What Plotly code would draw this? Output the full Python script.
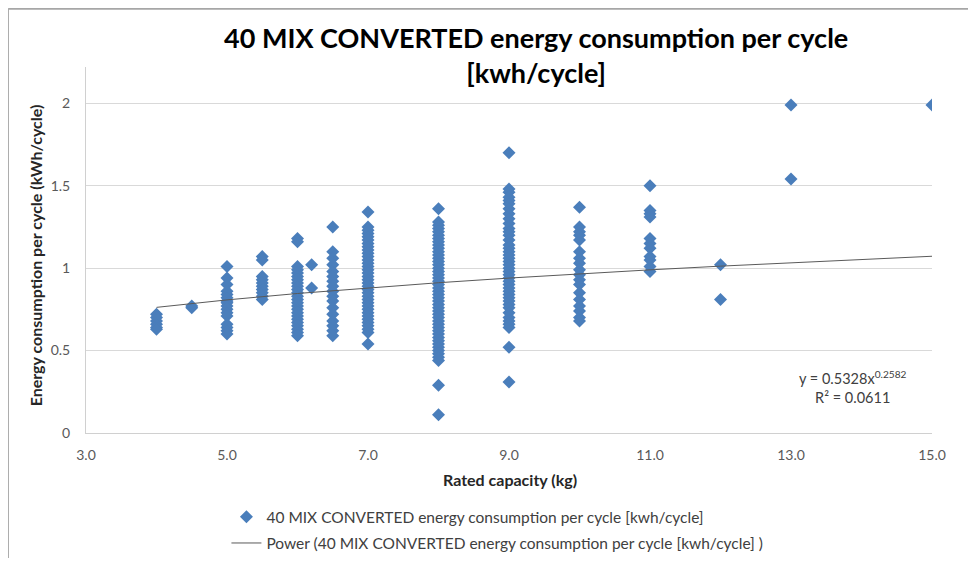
import plotly.graph_objects as go

# Energy consumption per cycle (kWh/cycle) grouped by rated capacity (kg)
capacities = [4.0, 4.5, 5.0, 5.5, 6.0, 6.2, 6.5, 7.0, 8.0, 9.0, 10.0, 11.0, 12.0, 13.0, 15.0]

cons_4 = [0.72, 0.70, 0.68, 0.66, 0.64, 0.63]
cons_4_5 = [0.76, 0.77]
cons_5 = [1.01, 0.94, 0.90, 0.86, 0.84, 0.82, 0.80, 0.79, 0.77, 0.75, 0.73, 0.71, 0.66, 0.64, 0.62, 0.60]
cons_5_5 = [1.07, 1.05, 0.95, 0.93, 0.91, 0.89, 0.87, 0.85, 0.83, 0.81]
cons_6 = [1.18, 1.16, 1.01, 0.99, 0.97, 0.95, 0.93, 0.91, 0.89, 0.87, 0.85, 0.83,
          0.81, 0.79, 0.77, 0.75, 0.73, 0.71, 0.69, 0.67, 0.65, 0.63, 0.61, 0.59]
cons_6_2 = [1.02, 0.88]
cons_6_5 = [1.25, 1.10, 1.06, 1.02, 0.98, 0.95, 0.92, 0.89, 0.86, 0.83, 0.80, 0.76,
            0.72, 0.68, 0.65, 0.62, 0.59]
cons_7 = [1.34, 1.25, 1.23, 1.21, 1.19, 1.17, 1.15, 1.13, 1.11, 1.09, 1.07, 1.05,
          1.03, 1.01, 0.99, 0.97, 0.95, 0.93, 0.91, 0.89, 0.87, 0.85, 0.83, 0.81,
          0.79, 0.77, 0.75, 0.73, 0.71, 0.69, 0.67, 0.65, 0.63, 0.61, 0.54]
cons_8 = [1.36, 1.28, 1.26, 1.24, 1.22, 1.20, 1.18, 1.16, 1.14, 1.12, 1.10, 1.08,
          1.06, 1.04, 1.02, 1.00, 0.98, 0.96, 0.94, 0.92, 0.90, 0.88, 0.86, 0.84,
          0.82, 0.80, 0.78, 0.76, 0.74, 0.72, 0.70, 0.68, 0.66, 0.64, 0.62, 0.60,
          0.58, 0.56, 0.54, 0.52, 0.50, 0.48, 0.46, 0.44, 0.29, 0.11]
cons_9 = [1.70, 1.48, 1.46, 1.43, 1.41, 1.39, 1.36, 1.33, 1.30, 1.27, 1.24, 1.22,
          1.20, 1.17, 1.14, 1.12, 1.10, 1.08, 1.06, 1.04, 1.02, 1.00, 0.98, 0.96,
          0.94, 0.92, 0.90, 0.88, 0.86, 0.84, 0.82, 0.80, 0.78, 0.76, 0.73, 0.70,
          0.68, 0.66, 0.64, 0.52, 0.31]
cons_10 = [1.37, 1.25, 1.22, 1.20, 1.17, 1.10, 1.06, 1.03, 0.99, 0.96, 0.93, 0.90,
           0.85, 0.81, 0.77, 0.74, 0.70, 0.68]
cons_11 = [1.50, 1.35, 1.33, 1.31, 1.18, 1.15, 1.12, 1.07, 1.05, 1.01, 0.98]
cons_12 = [1.02, 0.81]
cons_13 = [1.99, 1.54]
cons_15 = [1.99]

consumption = [cons_4, cons_4_5, cons_5, cons_5_5, cons_6, cons_6_2, cons_6_5, cons_7,
               cons_8, cons_9, cons_10, cons_11, cons_12, cons_13, cons_15]

# Power trendline as printed on the chart: y = a * x^b
trend_a = 0.5328
trend_b = 0.2582
trend_r2 = 0.0611
trend_x = [4.0, 5.0, 6.0, 7.0, 8.0, 9.0, 10.0, 11.0, 12.0, 13.0, 14.0, 15.0]

x_ticks = [3, 5, 7, 9, 11, 13, 15]
y_ticks = [0, 0.5, 1, 1.5, 2]
series_name = "40 MIX CONVERTED energy consumption per cycle [kwh/cycle]"

xs, ys = [], []
for cap, vals in zip(capacities, consumption):
    xs += [cap] * len(vals)
    ys += vals
trend_y = [trend_a * x ** trend_b for x in trend_x]

fnt = "Lato, 'Open Sans', sans-serif"
gray_txt = "#595959"

fig = go.Figure()

fig.add_trace(go.Scatter(
    x=xs, y=ys,
    mode='markers',
    name=series_name,
    legendgroup='a',
    marker=dict(symbol='diamond', size=10, color='#4A7EBB', line=dict(width=0)),
))

fig.add_trace(go.Scatter(
    x=trend_x, y=trend_y,
    mode='lines',
    name="Power (" + series_name + " )",
    legendgroup='b',
    line=dict(color='#5a5a5a', width=1),
))

# page body has an 8px margin, so the figure is sized to fit inside it
fig.update_layout(
    width=960, height=550,
    margin=dict(l=78, r=36, t=59, b=125),
    plot_bgcolor="white",
    paper_bgcolor="white",
    font=dict(family=fnt, size=14, color=gray_txt),
    xaxis=dict(
        range=[3, 15], tickvals=x_ticks, tickformat='.1f',
        showgrid=False, zeroline=False,
        showline=True, linecolor='#d0d0d0', linewidth=1,
        ticks='', ticklabelstandoff=9,
        tickfont=dict(size=14, color=gray_txt),
    ),
    yaxis=dict(
        range=[0, 2.22], tickvals=y_ticks,
        showgrid=True, gridcolor='#d9d9d9', gridwidth=1,
        zeroline=False,
        showline=True, linecolor='#d0d0d0', linewidth=1,
        ticks='', ticklabelstandoff=12,
        tickfont=dict(size=14, color=gray_txt),
    ),
    legend=dict(
        xref='paper', yref='container',
        x=0.166, xanchor='left', y=0.105, yanchor='top',
        orientation='v', bgcolor='rgba(0,0,0,0)',
        itemwidth=30, tracegroupgap=3,
        font=dict(family=fnt, size=15.5, color='#404040'),
    ),
    showlegend=True,
)

# Title
fig.add_annotation(
    text="<b>40 MIX CONVERTED energy consumption per cycle<br>[kwh/cycle]</b>",
    xref='paper', yref='paper', x=0.532, y=1.033,
    xanchor='center', yanchor='middle', showarrow=False,
    font=dict(family=fnt, size=27, color='black'),
)

# Axis titles
fig.add_annotation(
    text="<b>Energy consumption per cycle (kWh/cycle)</b>",
    xref='paper', yref='paper', x=-0.060, y=0.486,
    xanchor='center', yanchor='middle',
    textangle=-90, showarrow=False,
    font=dict(family=fnt, size=16, color='#262626'),
)
fig.add_annotation(
    text="<b>Rated capacity (kg)</b>",
    xref='paper', yref='paper', x=0.501, y=-0.128,
    xanchor='center', yanchor='middle', showarrow=False,
    font=dict(family=fnt, size=16, color='#262626'),
)

# Trendline equation
fig.add_annotation(
    text="y = %.4fx<sup>%.4f</sup><br>R² = %.4f" % (trend_a, trend_b, trend_r2),
    xref='paper', yref='paper', x=0.907, y=0.127,
    xanchor='center', yanchor='middle',
    showarrow=False, align='center',
    font=dict(family=fnt, size=14.5, color='#404040'),
)

# Chart frame (top and left edges visible in the original)
fig.add_shape(type='line', xref='paper', yref='paper',
              x0=-0.092, x1=1.05, y0=1.159, y1=1.159,
              line=dict(color='#a6a6a6', width=2))
fig.add_shape(type='line', xref='paper', yref='paper',
              x0=-0.092, x1=-0.092, y0=-0.35, y1=1.159,
              line=dict(color='#a6a6a6', width=1.5))

fig.write_html("out.html")
